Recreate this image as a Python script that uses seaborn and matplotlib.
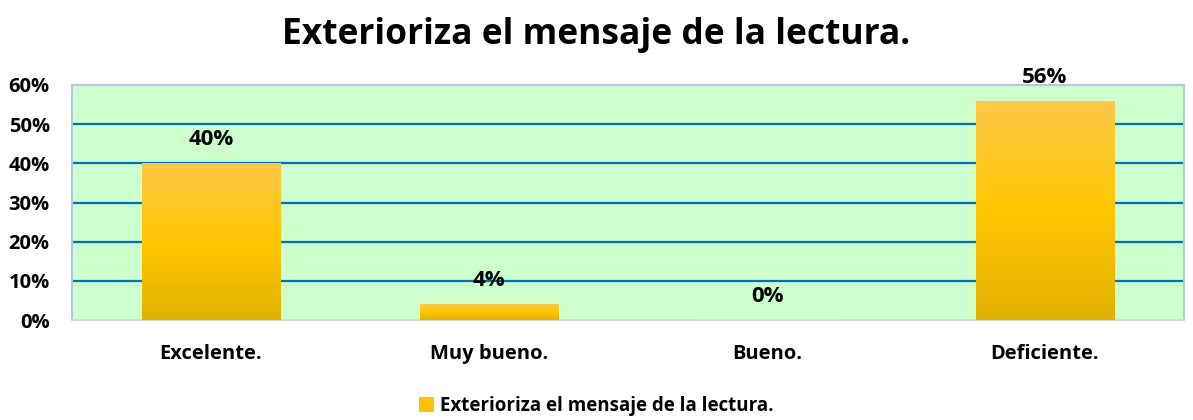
import numpy as np
import pandas as pd
import matplotlib
matplotlib.use("Agg")
import matplotlib.pyplot as plt
import seaborn as sns
from matplotlib.colors import LinearSegmentedColormap
from matplotlib.patches import Patch

# data
categories = ["Excelente.", "Muy bueno.", "Bueno.", "Deficiente."]
values = [0.40, 0.04, 0.00, 0.56]
value_labels = ["40%", "4%", "0%", "56%"]
series_name = "Exterioriza el mensaje de la lectura."
title = "Exterioriza el mensaje de la lectura."
yticks = [0, 0.1, 0.2, 0.3, 0.4, 0.5, 0.6]
ytick_labels = ["0%", "10%", "20%", "30%", "40%", "50%", "60%"]

df = pd.DataFrame({"cat": categories, "val": values})

sns.set_style("white")
plt.rcParams["font.family"] = ["Open Sans", "DejaVu Sans"]
plt.rcParams["font.weight"] = "bold"
plt.rcParams["text.color"] = "black"
plt.rcParams["xtick.color"] = "black"
plt.rcParams["ytick.color"] = "black"

fig = plt.figure(figsize=(11.93, 4.2), dpi=100)
ax = fig.add_axes([72 / 1193, 1 - 320 / 420, (1184 - 72) / 1193, (320 - 85) / 420])
ax.set_facecolor("#CCFFCC")

sns.barplot(data=df, x="cat", y="val", ax=ax, width=0.5, color="#FFC000",
            saturation=1, zorder=3)

# gradient fill on each bar
grad = LinearSegmentedColormap.from_list("g", ["#E2B100", "#FFC600", "#FFC847"])
img = np.linspace(0, 1, 256).reshape(-1, 1)
for p in ax.patches:
    x0, y0 = p.get_x(), p.get_y()
    w, h = p.get_width(), p.get_height()
    if h <= 0:
        continue
    im = ax.imshow(img, cmap=grad, origin="lower", aspect="auto",
                   extent=[x0, x0 + w, y0, y0 + h], zorder=4)
    im.set_clip_path(p)
    p.set_edgecolor("none")

ax.set_xlim(-0.5, 3.5)
ax.set_ylim(0, 0.6)
ax.set_yticks(yticks)
ax.set_yticklabels(ytick_labels, fontsize=14.5, fontweight="bold", color="black")
ax.set_xticklabels(categories, fontsize=14.5, fontweight="bold", color="black")
ax.tick_params(axis="x", pad=17, length=0)
ax.tick_params(axis="y", pad=16, length=0)
ax.set_xlabel("")
ax.set_ylabel("")

for y in yticks[1:-1]:
    ax.axhline(y, color="#0070C0", lw=1.6, zorder=2)

for s in ax.spines.values():
    s.set_color("#B4C7E7")
    s.set_linewidth(1.5)
ax.spines["bottom"].set_color("#D9D9D9")

# value labels
for i, (v, lab) in enumerate(zip(values, value_labels)):
    ax.text(i, v + 0.06, lab, ha="center", va="center", fontsize=16,
            fontweight="bold", color="black", zorder=5, clip_on=False)

fig.text(0.5, 1 - 35 / 420, title, ha="center", va="center", fontsize=25.5,
         fontweight="bold", color="black")

handle = Patch(facecolor="#FFC000", edgecolor="none")
leg = fig.legend([handle], [series_name], loc="center",
                 bbox_to_anchor=(0.5, 1 - 406 / 420),
                 frameon=False, prop={"weight": "bold", "size": 13.5},
                 handlelength=0.8, handleheight=0.8, handletextpad=0.3)
for t in leg.get_texts():
    t.set_color("black")

fig.savefig("out.png", dpi=100)
